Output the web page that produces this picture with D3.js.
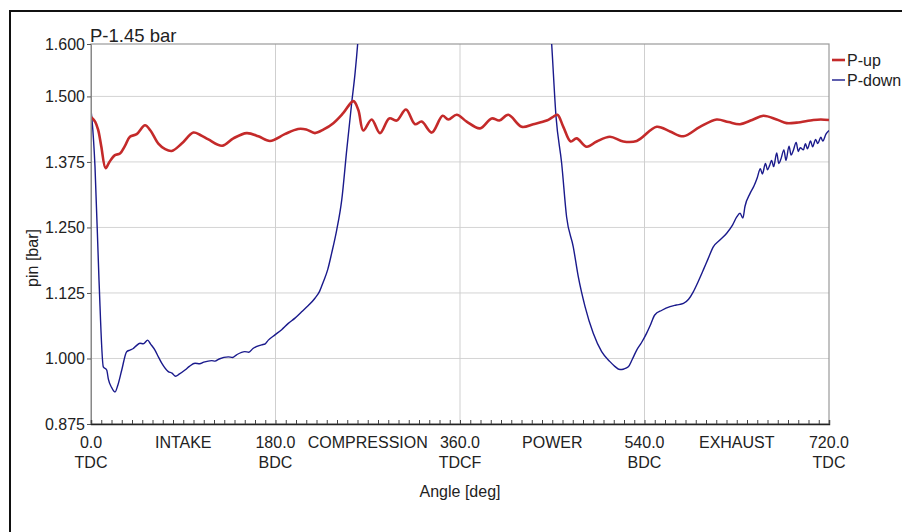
<!DOCTYPE html>
<html><head><meta charset="utf-8">
<script src="https://cdn.jsdelivr.net/npm/d3@7/dist/d3.min.js"></script>
<style>body{margin:0;background:#fff}svg{display:block;font-family:"Liberation Sans",Arial,sans-serif}</style>
</head><body><svg id="c" width="902" height="532"></svg>
<script>
// ---- data ----
const title = "P-1.45 bar";
const yTicks = [0.875, 1.000, 1.125, 1.250, 1.375, 1.500, 1.600];
const xTicks = [0, 180, 360, 540, 720];
const xTickTop = ["0.0", "180.0", "360.0", "540.0", "720.0"];
const xTickBottom = ["TDC", "BDC", "TDCF", "BDC", "TDC"];
const phaseAngles = [90, 270, 450, 630];
const phaseLabels = ["INTAKE", "COMPRESSION", "POWER", "EXHAUST"];
const seriesNames = ["P-up", "P-down"];

const upAngle = [0,4,7,10,14.3,18,23.4,28.3,33,38,44.6,52.7,58,65.7,72,78.7,88.5,99.8,107,114.5,128,138.9,151.9,163.3,174.6,189,202,210,218.5,227,236.4,246,256,260.8,265.7,273.8,281.9,291,298.2,307.3,316.1,322.6,332.4,343,348.6,356.8,366.5,379.5,390.9,398.4,407.1,420.2,431.5,444.6,450,455,460.8,468,473.8,483.6,493.4,506.3,519.3,532.4,551.9,564.9,577.9,594.1,610.4,622,633.2,645,655.9,668.9,678.7,688.5,704.7,712,720];
const upValue = [1.461,1.452,1.436,1.405,1.363,1.375,1.388,1.391,1.405,1.423,1.428,1.445,1.435,1.410,1.400,1.396,1.410,1.431,1.426,1.418,1.406,1.420,1.430,1.424,1.415,1.428,1.438,1.437,1.430,1.437,1.449,1.468,1.491,1.474,1.435,1.456,1.430,1.458,1.454,1.475,1.447,1.452,1.431,1.463,1.456,1.465,1.452,1.439,1.458,1.454,1.465,1.442,1.447,1.454,1.460,1.465,1.442,1.414,1.420,1.404,1.414,1.423,1.414,1.415,1.442,1.433,1.424,1.442,1.456,1.451,1.447,1.455,1.463,1.456,1.449,1.450,1.455,1.456,1.455];

const downAngle = [0,1,3.9,7.8,12,15.3,17,20,23.4,26,30,34.8,38,41.3,44,47.8,51,55.3,58,62.4,66,69,75.4,79,82.6,86,91.7,96,101.5,106,110,117.7,121,125,134,138,142,150,154,158,166.5,170,173,179.5,186,192.5,199,205.5,212,218.5,223,226.6,231,234.8,239.7,244.6,249.5,254.3,257.6,260.2,265,280,300,330,360,390,420,440,449.4,453.7,459.2,464,470.5,475.4,482,490,498.2,506.3,511,516,520,524.2,528,532.4,537,542,546,550,557,564.9,571,578,583,587.6,592,597.4,602,607.1,613,620.2,626,630,633.2,636,638,643,647,650,653,655,658,660,662,664,666,669,671,673,676,678,681,683,685,688,690,692,695,697,699,702,704,707,709,712,714,717,720];
const downValue = [1.474,1.455,1.366,1.150,0.984,0.978,0.960,0.945,0.936,0.948,0.978,1.013,1.016,1.019,1.024,1.029,1.028,1.035,1.028,1.016,1.002,0.991,0.975,0.972,0.966,0.970,0.978,0.985,0.991,0.990,0.993,0.996,0.995,0.999,1.003,1.002,1.007,1.013,1.012,1.019,1.026,1.028,1.035,1.045,1.055,1.067,1.077,1.089,1.101,1.115,1.128,1.146,1.170,1.201,1.245,1.302,1.398,1.487,1.544,1.601,1.75,2.10,2.50,2.85,2.95,2.80,2.30,1.85,1.601,1.461,1.372,1.270,1.213,1.156,1.099,1.048,1.013,0.994,0.985,0.979,0.980,0.984,0.998,1.016,1.030,1.048,1.065,1.083,1.092,1.099,1.102,1.105,1.113,1.127,1.145,1.169,1.190,1.213,1.225,1.239,1.255,1.270,1.277,1.268,1.290,1.315,1.330,1.345,1.362,1.352,1.372,1.360,1.368,1.378,1.366,1.392,1.372,1.380,1.398,1.378,1.405,1.388,1.396,1.412,1.395,1.402,1.398,1.410,1.400,1.415,1.404,1.418,1.410,1.422,1.415,1.428,1.435];

// ---- chart ----
const svg = d3.select("#c");
const L = 91, R = 829, T = 44, B = 424;
const x = d3.scaleLinear().domain([0, 720]).range([L, R]);
const y = d3.scaleLinear().domain([0.875, 1.6]).range([B, T]);
const font = "Liberation Sans, Arial, sans-serif";

// outer border
svg.append("rect").attr("x", 10).attr("y", 11).attr("width", 900).attr("height", 530)
  .attr("fill", "none").attr("stroke", "#111").attr("stroke-width", 2);

// gridlines
const g = svg.append("g");
g.selectAll(".hg").data(yTicks.slice(1, -1)).join("line")
  .attr("x1", L).attr("x2", R).attr("y1", d => y(d)).attr("y2", d => y(d))
  .attr("stroke", "#d4d4d4").attr("stroke-width", 1);
g.selectAll(".vg").data(xTicks.slice(1, -1)).join("line")
  .attr("y1", T).attr("y2", B).attr("x1", d => x(d)).attr("x2", d => x(d))
  .attr("stroke", "#cfcfcf").attr("stroke-width", 1);

// frame
svg.append("rect").attr("x", L).attr("y", T).attr("width", R - L).attr("height", B - T)
  .attr("fill", "none").attr("stroke", "#9a9a9a").attr("stroke-width", 1.2);

// clip
svg.append("clipPath").attr("id", "clip").append("rect")
  .attr("x", L).attr("y", T).attr("width", R - L).attr("height", B - T);

const lineUp = d3.line().x(d => x(d[0])).y(d => y(d[1])).curve(d3.curveCatmullRom.alpha(0.5));
const lineDown = d3.line().x(d => x(d[0])).y(d => y(d[1])).curve(d3.curveMonotoneX);

svg.append("path").attr("clip-path", "url(#clip)")
  .datum(d3.zip(downAngle, downValue)).attr("d", lineDown)
  .attr("fill", "none").attr("stroke", "#1a1a8c").attr("stroke-width", 1.4);
svg.append("path").attr("clip-path", "url(#clip)")
  .datum(d3.zip(upAngle, upValue)).attr("d", lineUp)
  .attr("fill", "none").attr("stroke", "#c42a2a").attr("stroke-width", 2.6);

// y axis
const ya = svg.append("g").attr("transform", `translate(${L},0)`)
  .call(d3.axisLeft(y).tickValues(yTicks).tickFormat(d3.format(".3f")).tickSize(4).tickPadding(2));
ya.select(".domain").attr("stroke", "#888");
ya.selectAll(".tick line").attr("stroke", "#555");
ya.selectAll("text").attr("font-family", font).attr("font-size", 16).attr("fill", "#222");

// x axis minor ticks
const minor = d3.range(0, 721, 10);
const xa = svg.append("g").attr("transform", `translate(0,${B})`)
  .call(d3.axisBottom(x).tickValues(minor).tickSize(-4).tickFormat(""));
xa.select(".domain").attr("stroke", "#222").attr("stroke-width", 1.4);
xa.selectAll(".tick line").attr("stroke", "#444");

// x labels
const lab = svg.append("g").attr("font-family", font).attr("font-size", 16).attr("fill", "#222").attr("text-anchor", "middle");
lab.selectAll(".t1").data(xTicks).join("text").attr("x", d => x(d)).attr("y", 448).text((d, i) => xTickTop[i]);
lab.selectAll(".t2").data(xTicks).join("text").attr("x", d => x(d)).attr("y", 468).text((d, i) => xTickBottom[i]);
lab.selectAll(".ph").data(phaseAngles).join("text").attr("x", d => x(d)).attr("y", 448).text((d, i) => phaseLabels[i]);
lab.append("text").attr("x", x(360)).attr("y", 497).text("Angle [deg]");
lab.append("text").attr("transform", "translate(38,258) rotate(-90)").text("pin [bar]");

// title
svg.append("text").attr("x", 90).attr("y", 42).attr("font-family", font).attr("font-size", 18.5).attr("fill", "#222").text(title);

// legend
const colors = ["#c42a2a", "#1a1a8c"];
const lg = svg.append("g");
seriesNames.forEach((n, i) => {
  const yy = 60 + i * 20;
  lg.append("line").attr("x1", 832).attr("x2", 845).attr("y1", yy).attr("y2", yy)
    .attr("stroke", colors[i]).attr("stroke-width", i === 0 ? 2.6 : 1.4);
  lg.append("text").attr("x", 847).attr("y", yy + 5.5).attr("font-family", font).attr("font-size", 16).attr("fill", "#222").text(n);
});
</script></body></html>
